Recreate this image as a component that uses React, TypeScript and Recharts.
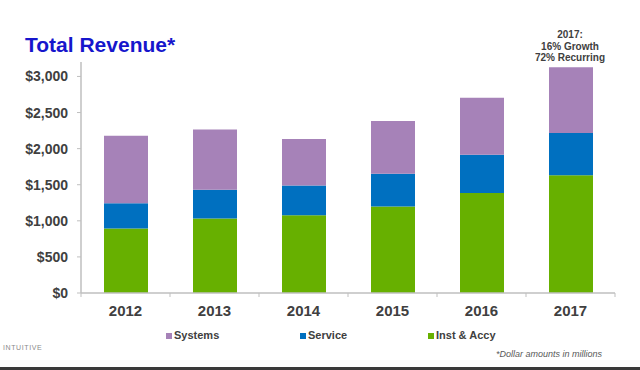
import React from 'react';
import { BarChart, Bar, XAxis, YAxis } from 'recharts';

const years = ['2012', '2013', '2014', '2015', '2016', '2017'];
const instAccy = [895, 1033, 1076, 1198, 1385, 1632];
const service = [349, 396, 414, 455, 530, 585];
const systems = [935, 836, 642, 731, 789, 912];
const yTicks = [0, 500, 1000, 1500, 2000, 2500, 3000];
const seriesNames = ['Systems', 'Service', 'Inst & Accy'];
const noteLines = ['2017:', '16% Growth', '72% Recurring'];

const COLORS: Record<string, string> = {
  Systems: '#a682b8',
  Service: '#0070c0',
  'Inst & Accy': '#67b000',
};
const LEGEND_X = [166, 300, 428];
const FONT = '"Liberation Sans", Arial, sans-serif';
const AXIS = '#bfbfbf';
const TEXT = '#404040';

const data = years.map((year, i) => ({
  year,
  inst: instAccy[i],
  service: service[i],
  systems: systems[i],
}));

const fmtDollar = (v: number) => '$' + v.toLocaleString('en-US');

const YTick = (props: any) => {
  const { x, y, payload } = props;
  return (
    <text x={x} y={y + 5} textAnchor="end" fill={TEXT} fontSize={14} fontWeight="bold" fontFamily={FONT}>
      {fmtDollar(payload.value)}
    </text>
  );
};

const XTick = (props: any) => {
  const { x, y, payload, index } = props;
  const half = payload.offset || 44.5;
  const axisY = y - 2;
  return (
    <g>
      <line x1={x - half} x2={x - half} y1={axisY} y2={axisY + 4} stroke={AXIS} />
      {index === years.length - 1 && (
        <line x1={x + half} x2={x + half} y1={axisY} y2={axisY + 4} stroke={AXIS} />
      )}
      <text x={x} y={axisY + 23} textAnchor="middle" fill={TEXT} fontSize={15} fontWeight="bold" fontFamily={FONT}>
        {payload.value}
      </text>
    </g>
  );
};

export default function App() {
  return (
    <div style={{ position: 'absolute', left: 0, top: 0, width: 640, height: 370, background: '#fff', fontFamily: FONT }}>
      <BarChart
        width={640}
        height={370}
        data={data}
        margin={{ top: 62, right: 25, left: 0, bottom: 47 }}
        barSize={44}
      >
        <XAxis
          dataKey="year"
          height={30}
          axisLine={{ stroke: AXIS, strokeWidth: 1.5 }}
          tickLine={false}
          tickSize={0}
          tickMargin={2}
          tick={<XTick />}
          interval={0}
        />
        <YAxis
          width={81}
          domain={[0, 3200]}
          ticks={yTicks}
          axisLine={{ stroke: AXIS, strokeWidth: 1.5 }}
          tickLine={{ stroke: AXIS }}
          tickSize={4}
          tickMargin={9}
          tick={<YTick />}
          interval={0}
        />
        <Bar dataKey="inst" stackId="a" fill={COLORS['Inst & Accy']} isAnimationActive={false} />
        <Bar dataKey="service" stackId="a" fill={COLORS.Service} isAnimationActive={false} />
        <Bar dataKey="systems" stackId="a" fill={COLORS.Systems} isAnimationActive={false} />
      </BarChart>

      <div style={{ position: 'absolute', left: 25, top: 33, fontSize: 21, fontWeight: 'bold', color: '#1616cc', lineHeight: '24px' }}>
        Total Revenue*
      </div>

      <div style={{ position: 'absolute', left: 520, width: 100, top: 29, textAlign: 'center', fontSize: 10, fontWeight: 'bold', color: TEXT, lineHeight: '11.5px' }}>
        {noteLines.map((l) => (
          <div key={l}>{l}</div>
        ))}
      </div>

      {seriesNames.map((name, i) => (
        <div key={name} style={{ position: 'absolute', left: LEGEND_X[i], top: 329, display: 'flex', alignItems: 'center', fontSize: 11, fontWeight: 'bold', color: TEXT, lineHeight: '13px' }}>
          <span style={{ width: 6, height: 6, background: COLORS[name], marginRight: 2, display: 'inline-block' }} />
          {name}
        </div>
      ))}

      <div style={{ position: 'absolute', left: 3, top: 344, fontSize: 7, color: '#8a8a8a', letterSpacing: 0.6 }}>
        INTUITIVE
      </div>

      <div style={{ position: 'absolute', right: 38, top: 349, fontSize: 9, fontStyle: 'italic', color: '#595959' }}>
        *Dollar amounts in millions
      </div>

      <div style={{ position: 'absolute', left: 0, top: 367, width: 640, height: 3, background: '#3a3a3a' }} />
    </div>
  );
}
